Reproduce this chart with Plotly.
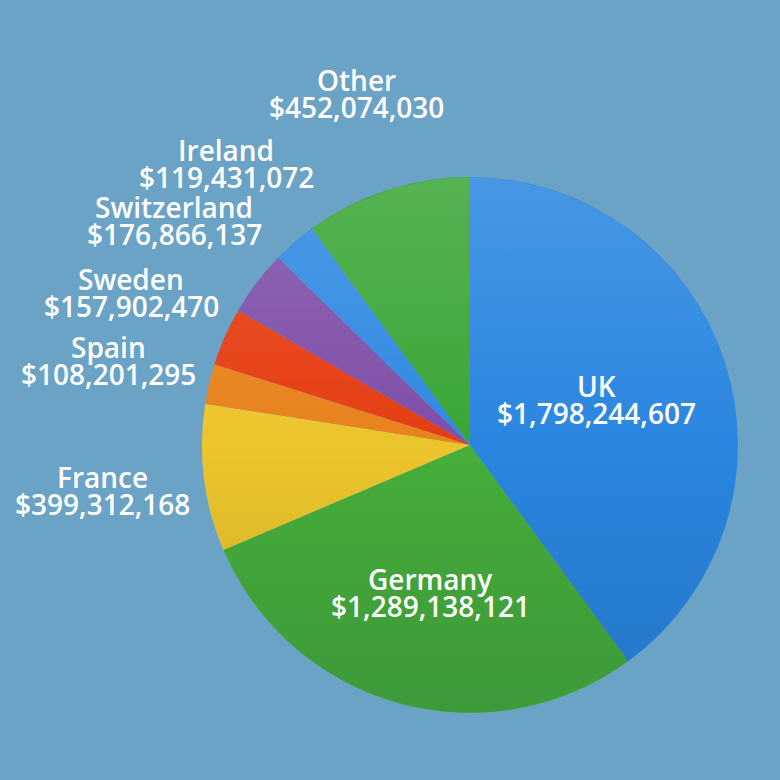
import base64
import plotly.graph_objects as go

countries = ["UK", "Germany", "France", "Spain", "Sweden", "Switzerland", "Ireland", "Other"]
values = [1798244607, 1289138121, 399312168, 108201295, 157902470, 176866137, 119431072, 452074030]
colors = ["#2a86e0", "#46ae3b", "#ebc52c", "#e8821c", "#e63d12", "#7f4fa9", "#3089e2", "#3aa636"]

# label anchor positions in pixels (name line centre), layout only
label_pos = {
    "UK": (596, 386), "Germany": (430, 579), "France": (102, 477), "Spain": (108, 347),
    "Sweden": (131, 279), "Switzerland": (174, 207), "Ireland": (226, 150), "Other": (356, 80),
}

W = H = 780
cx, cy, r = 470, 445, 268

fig = go.Figure(go.Pie(
    labels=countries,
    values=values,
    sort=False,
    direction="clockwise",
    rotation=0,
    textinfo="none",
    hoverinfo="label+value",
    marker=dict(colors=colors, line=dict(width=0)),
    domain=dict(x=[(cx - r) / W, (cx + r) / W], y=[(H - cy - r) / H, (H - cy + r) / H]),
    showlegend=False,
))

# soft vertical shading over the pie (light at top, darker at bottom)
svg = ('<svg xmlns="http://www.w3.org/2000/svg" viewBox="0 0 100 100" width="100" height="100">'
       '<defs><linearGradient id="g" x1="0" y1="0" x2="0" y2="1">'
       '<stop offset="0" stop-color="#ffffff" stop-opacity="0.14"/>'
       '<stop offset="0.5" stop-color="#ffffff" stop-opacity="0"/>'
       '<stop offset="0.5" stop-color="#000000" stop-opacity="0"/>'
       '<stop offset="1" stop-color="#002040" stop-opacity="0.14"/>'
       '</linearGradient></defs>'
       '<circle cx="50" cy="50" r="49.9" fill="url(#g)"/></svg>')
src = "data:image/svg+xml;base64," + base64.b64encode(svg.encode()).decode()

font = dict(family="Open Sans, Lato, sans-serif", size=28, color="white", weight=600)
anns = []
for c, v in zip(countries, values):
    px, py = label_pos[c]
    anns.append(dict(x=px / W, y=1 - py / H, xref="paper", yref="paper", text=c,
                     showarrow=False, font=font, xanchor="center", yanchor="middle",
                     borderpad=0))
    anns.append(dict(x=px / W, y=1 - (py + 27) / H, xref="paper", yref="paper",
                     text="${:,}".format(v), showarrow=False, font=font,
                     xanchor="center", yanchor="middle", borderpad=0))

fig.update_layout(
    width=W, height=H,
    margin=dict(l=0, r=0, t=0, b=0),
    paper_bgcolor="#6ba3c6",
    plot_bgcolor="#6ba3c6",
    annotations=anns,
    images=[dict(source=src, xref="paper", yref="paper",
                 x=(cx - r) / W, y=1 - (cy - r) / H, sizex=2 * r / W, sizey=2 * r / H,
                 xanchor="left", yanchor="top", sizing="stretch", layer="above")],
)

fig.write_html("out.html")
